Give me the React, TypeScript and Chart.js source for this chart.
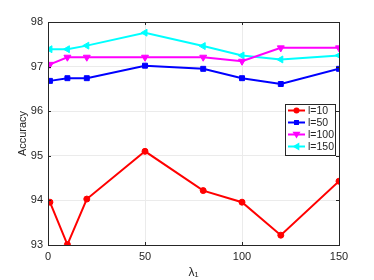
import React, { useEffect, useRef } from "react";
import { Chart, registerables } from "chart.js";

Chart.register(...registerables);

const xValues = [1, 10, 20, 50, 80, 100, 120, 150];
const l10 = [93.96, 93.01, 94.03, 95.1, 94.22, 93.96, 93.22, 94.43];
const l50 = [96.68, 96.74, 96.74, 97.02, 96.95, 96.74, 96.61, 96.95];
const l100 = [97.05, 97.21, 97.21, 97.21, 97.21, 97.12, 97.42, 97.42];
const l150 = [97.39, 97.39, 97.47, 97.76, 97.46, 97.25, 97.16, 97.25];
const seriesLabels = ["l=10", "l=50", "l=100", "l=150"];
const xTicks = [0, 50, 100, 150];
const yTicks = [93, 94, 95, 96, 97, 98];

const FONT = "'Liberation Sans', Arial, Helvetica, sans-serif";
const AXIS = "#262626";

const toPts = (ys: number[]) => ys.map((y, i) => ({ x: xValues[i], y }));

function drawMarker(ctx: CanvasRenderingContext2D, style: string, rot: number, x: number, y: number, r: number) {
  ctx.save();
  ctx.translate(x, y);
  ctx.rotate((rot * Math.PI) / 180);
  ctx.beginPath();
  if (style === "circle") {
    ctx.arc(0, 0, r, 0, Math.PI * 2);
  } else if (style === "rect") {
    const s = r * Math.SQRT1_2;
    ctx.rect(-s, -s, 2 * s, 2 * s);
  } else {
    const h = r;
    ctx.moveTo(0, -h);
    ctx.lineTo(h, h * 0.7);
    ctx.lineTo(-h, h * 0.7);
    ctx.closePath();
  }
  ctx.fill();
  ctx.restore();
}

const boxPlugin = {
  id: "matlabBox",
  afterDraw(chart: any) {
    const { ctx, chartArea: a, scales } = chart;
    ctx.save();
    ctx.strokeStyle = AXIS;
    ctx.lineWidth = 1;
    ctx.beginPath();
    xTicks.forEach((t) => {
      const px = Math.round(scales.x.getPixelForValue(t)) + 0.5;
      ctx.moveTo(px, a.bottom);
      ctx.lineTo(px, a.bottom - 3);
      ctx.moveTo(px, a.top);
      ctx.lineTo(px, a.top + 3);
    });
    yTicks.forEach((t) => {
      const py = Math.round(scales.y.getPixelForValue(t)) + 0.5;
      ctx.moveTo(a.left, py);
      ctx.lineTo(a.left + 3, py);
      ctx.moveTo(a.right, py);
      ctx.lineTo(a.right - 3, py);
    });
    ctx.stroke();
    ctx.strokeRect(Math.round(a.left) + 0.5, Math.round(a.top) + 0.5, Math.round(a.right - a.left), Math.round(a.bottom - a.top));

    const bx = 285.5, by = 104.5, bw = 50, bh = 51;
    ctx.fillStyle = "#ffffff";
    ctx.fillRect(bx, by, bw, bh);
    ctx.strokeStyle = "#262626";
    ctx.strokeRect(bx, by, bw, bh);
    chart.data.datasets.forEach((ds: any, i: number) => {
      const y = 110.5 + i * 12;
      ctx.strokeStyle = ds.borderColor;
      ctx.lineWidth = 2;
      ctx.beginPath();
      ctx.moveTo(288, y);
      ctx.lineTo(305, y);
      ctx.stroke();
      ctx.fillStyle = ds.borderColor;
      drawMarker(ctx, ds.pointStyle, ds.rotation || 0, 296.5, y, ds.pointRadius);
      ctx.fillStyle = AXIS;
      ctx.font = `10.5px ${FONT}`;
      ctx.textBaseline = "middle";
      ctx.textAlign = "left";
      ctx.fillText(ds.label, 308, y + 0.5);
    });
    ctx.restore();
  },
};

export default function App() {
  const ref = useRef<HTMLCanvasElement>(null);
  useEffect(() => {
    document.body.style.margin = "0";
    const colors = ["#ff0000", "#0000ff", "#ff00ff", "#00ffff"];
    const data = [l10, l50, l100, l150];
    const styles = ["circle", "rect", "triangle", "triangle"];
    const rots = [0, 0, 180, 270];
    const radii = [3, 3.5, 4, 4];
    const chart = new Chart(ref.current!, {
      type: "line",
      data: {
        datasets: data.map((d, i) => ({
          label: seriesLabels[i],
          data: toPts(d),
          borderColor: colors[i],
          backgroundColor: colors[i],
          borderWidth: 2,
          pointStyle: styles[i],
          rotation: rots[i],
          pointRadius: radii[i],
          pointBorderWidth: 1,
          pointBackgroundColor: colors[i],
          pointBorderColor: colors[i],
          tension: 0,
        })) as any,
      },
      options: {
        animation: false,
        responsive: false,
        devicePixelRatio: 1,
        layout: { padding: { top: 22, right: 35, left: 16, bottom: 0 } },
        plugins: { legend: { display: false }, tooltip: { enabled: false } },
        scales: {
          x: {
            type: "linear",
            min: 0,
            max: 150,
            afterBuildTicks: (s: any) => {
              s.ticks = xTicks.map((v) => ({ value: v }));
            },
            afterFit: (s: any) => {
              s.height = 35;
            },
            grid: { color: "#ebebeb", drawTicks: false, lineWidth: 1 },
            border: { display: false },
            ticks: { color: AXIS, font: { family: FONT, size: 11 }, padding: 5 },
            title: { display: true, text: "λ₁", color: AXIS, font: { family: FONT, size: 12 }, padding: { top: 0, bottom: 0 } },
          },
          y: {
            type: "linear",
            min: 93,
            max: 98,
            afterBuildTicks: (s: any) => {
              s.ticks = yTicks.map((v) => ({ value: v }));
            },
            afterFit: (s: any) => {
              s.width = 32;
            },
            grid: { color: "#ebebeb", drawTicks: false, lineWidth: 1 },
            border: { display: false },
            ticks: { color: AXIS, font: { family: FONT, size: 11 }, padding: 5 },
            title: { display: true, text: "Accuracy", color: AXIS, font: { family: FONT, size: 11 }, padding: { top: 0, bottom: 0 } },
          },
        },
      },
      plugins: [boxPlugin],
    });
    return () => chart.destroy();
  }, []);
  return (
    <div style={{ position: "absolute", left: 0, top: 0, width: 374, height: 280, background: "#fff" }}>
      <canvas ref={ref} width={374} height={280} style={{ width: 374, height: 280, display: "block" }} />
    </div>
  );
}
